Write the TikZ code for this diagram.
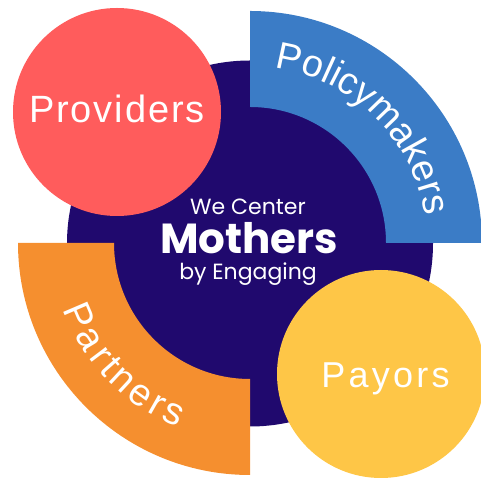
\documentclass[tikz,border=0pt]{standalone}
\usepackage{fontspec}
\setmainfont{Liberation Sans}
\newfontfamily\popfont{Poppins}
\usetikzlibrary{decorations.text}
\definecolor{navy}{RGB}{32,9,110}
\definecolor{provred}{RGB}{255,92,92}
\definecolor{polblue}{RGB}{59,124,198}
\definecolor{partorange}{RGB}{245,143,47}
\definecolor{payyellow}{RGB}{254,198,71}
\newcommand\curvefont{\fontsize{38}{38}\selectfont}
\tikzset{
  disc/.style={circle, inner sep=0pt, outer sep=0pt, minimum size=208pt},
  lab/.style={text=white, inner sep=0pt, anchor=base},
  curved/.style={decorate, decoration={text along path, text color=white,
     text align={fit to path}}}
}
\begin{document}
\begin{tikzpicture}[x=1pt,y=1pt]
\useasboundingbox (0,0) rectangle (481,478);
\clip (0,0) rectangle (481,478);
\coordinate (O) at (250,235);
% hub
\node[circle, fill=navy, inner sep=0pt, outer sep=0pt, minimum size=366pt] (hub) at (250,234.5) {};
% policymakers quarter ring
\fill[polblue] ([shift={(0:136)}]O) arc[start angle=0, end angle=90, radius=136]
   -- ([shift={(90:232)}]O) arc[start angle=90, end angle=0, radius=232] -- cycle;
% partners quarter ring
\fill[partorange] ([shift={(180:136)}]O) arc[start angle=180, end angle=270, radius=136]
   -- ([shift={(270:232)}]O) arc[start angle=270, end angle=180, radius=232] -- cycle;
% circles
\node[disc, fill=provred] (prov) at (117,366) {};
\node[disc, fill=payyellow] (pay) at (381,104) {};
% labels
\node[lab, font=\fontsize{38}{38}\selectfont\addfontfeature{LetterSpace=5}] (provtxt) at (117,355.7) {Providers};
\node[lab, font=\fontsize{36}{36}\selectfont\addfontfeature{LetterSpace=9}] (paytxt) at (385.5,90.7) {Payors};
\path[curved, decoration={text={|\curvefont|Policymakers}}]
   ([shift={(82:177)}]O) arc[start angle=82, end angle=11, radius=177];
\path[curved, decoration={text={|\curvefont|Partners}}]
   ([shift={(199.5:198)}]O) arc[start angle=199.5, end angle=248.7, radius=198];
% centre text
\node[lab, font=\popfont\fontsize{22}{22}\selectfont] (we) at (248,263) {We Center};
\node[lab, font=\popfont\bfseries\fontsize{42}{42}\selectfont] (moth) at (249,224) {Mothers};
\node[lab, font=\popfont\fontsize{22}{22}\selectfont] (by) at (248,198) {by Engaging};
\end{tikzpicture}
\end{document}
